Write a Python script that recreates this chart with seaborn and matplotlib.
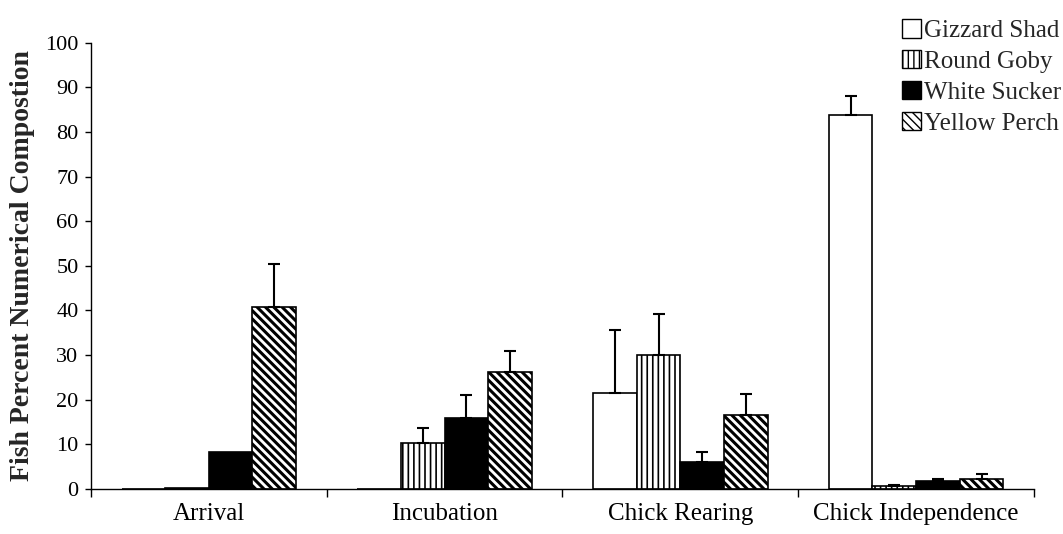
import matplotlib
matplotlib.use("Agg")
import matplotlib.pyplot as plt
from matplotlib.patches import Rectangle
import numpy as np
import pandas as pd
import seaborn as sns

# Breeding stages and prey species
stages = ["Arrival", "Incubation", "Chick Rearing", "Chick Independence"]
species = ["Gizzard Shad", "Round Goby", "White Sucker", "Yellow Perch"]

# Mean percent numerical composition per stage (one list per species)
gizzard_shad = [0.0, 0.0, 21.4, 83.8]
round_goby = [0.2, 10.3, 30.0, 0.5]
white_sucker = [8.3, 15.9, 6.0, 1.7]
yellow_perch = [40.8, 26.1, 16.6, 2.2]

# Upper standard error per stage
gizzard_shad_se = [0.0, 0.0, 14.2, 4.3]
round_goby_se = [0.0, 3.3, 9.2, 0.3]
white_sucker_se = [0.0, 5.1, 2.2, 0.5]
yellow_perch_se = [9.6, 4.8, 4.6, 1.0]

means = [gizzard_shad, round_goby, white_sucker, yellow_perch]
errors = [gizzard_shad_se, round_goby_se, white_sucker_se, yellow_perch_se]

df = pd.DataFrame({
    "Stage": np.repeat([stages], len(species), axis=0).ravel(),
    "Species": np.repeat(species, len(stages)),
    "Percent": np.concatenate(means),
})

face = ["white", "white", "black", "white"]
hatches = [None, "|||", None, "\\\\\\\\"]
hatch_lw = [1.0, 1.2, 1.0, 2.2]

sns.set_style("ticks")
plt.rcParams["font.family"] = ["Liberation Serif", "DejaVu Serif"]
plt.rcParams["hatch.color"] = "black"

fig = plt.figure(figsize=(10.63, 5.34), dpi=100)
ax = fig.add_axes([0.0856, 0.0848, 0.9727 - 0.0856, 0.920 - 0.0848])

sns.barplot(data=df, x="Stage", y="Percent", hue="Species",
            order=stages, hue_order=species, palette=face,
            width=0.74, errorbar=None, legend=False, ax=ax,
            edgecolor="black", linewidth=1.2, saturation=1)

bar_containers = list(ax.containers)
for i, cont in enumerate(bar_containers):
    for bar in cont:
        bar.set_facecolor(face[i])
        bar.set_edgecolor("black")
        if hatches[i]:
            bar.set_hatch(hatches[i])
            if hasattr(bar, "set_hatch_linewidth"):
                bar.set_hatch_linewidth(hatch_lw[i])
    xs = np.array([b.get_x() + b.get_width() / 2 for b in cont])
    hs = np.array([b.get_height() for b in cont])
    err = np.array(errors[i])
    mask = err > 0
    ax.errorbar(xs[mask], hs[mask],
                yerr=[np.zeros(mask.sum()), err[mask]],
                fmt="none", ecolor="black", elinewidth=1.5,
                capsize=4.5, capthick=1.5, zorder=3)

ax.set_ylim(0, 100)
ax.set_xlim(-0.5, len(stages) - 0.5)
ax.set_yticks(np.arange(0, 101, 10))
ax.tick_params(axis="y", labelsize=16, direction="out", length=4, width=1,
               pad=5, color="black", labelcolor="black")
ax.tick_params(axis="x", which="major", length=0, labelsize=18, pad=10,
               labelcolor="black")
ax.set_xticks(np.arange(-0.5, len(stages), 1.0), minor=True)
ax.tick_params(axis="x", which="minor", direction="out", length=6, width=1,
               color="black")
ax.set_xlabel("")
ax.set_ylabel("Fish Percent Numerical Compostion", fontsize=20,
              fontweight="bold", labelpad=7)
for s in ["top", "right"]:
    ax.spines[s].set_visible(False)
for s in ["left", "bottom"]:
    ax.spines[s].set_color("black")
    ax.spines[s].set_linewidth(1.0)

handles = []
for i in range(len(species)):
    r = Rectangle((0, 0), 1, 1, facecolor=face[i], edgecolor="black",
                  linewidth=1.0, hatch=hatches[i])
    if hatches[i] and hasattr(r, "set_hatch_linewidth"):
        r.set_hatch_linewidth(hatch_lw[i] * 0.8)
    handles.append(r)
fig.legend(handles=handles, labels=species, loc="upper left",
           bbox_to_anchor=(0.849, 0.964), frameon=False, fontsize=18,
           handlelength=0.75, handleheight=0.75, handletextpad=0.1,
           labelspacing=0.32, borderpad=0.0, borderaxespad=0.0)

fig.savefig("out.png", dpi=100)
